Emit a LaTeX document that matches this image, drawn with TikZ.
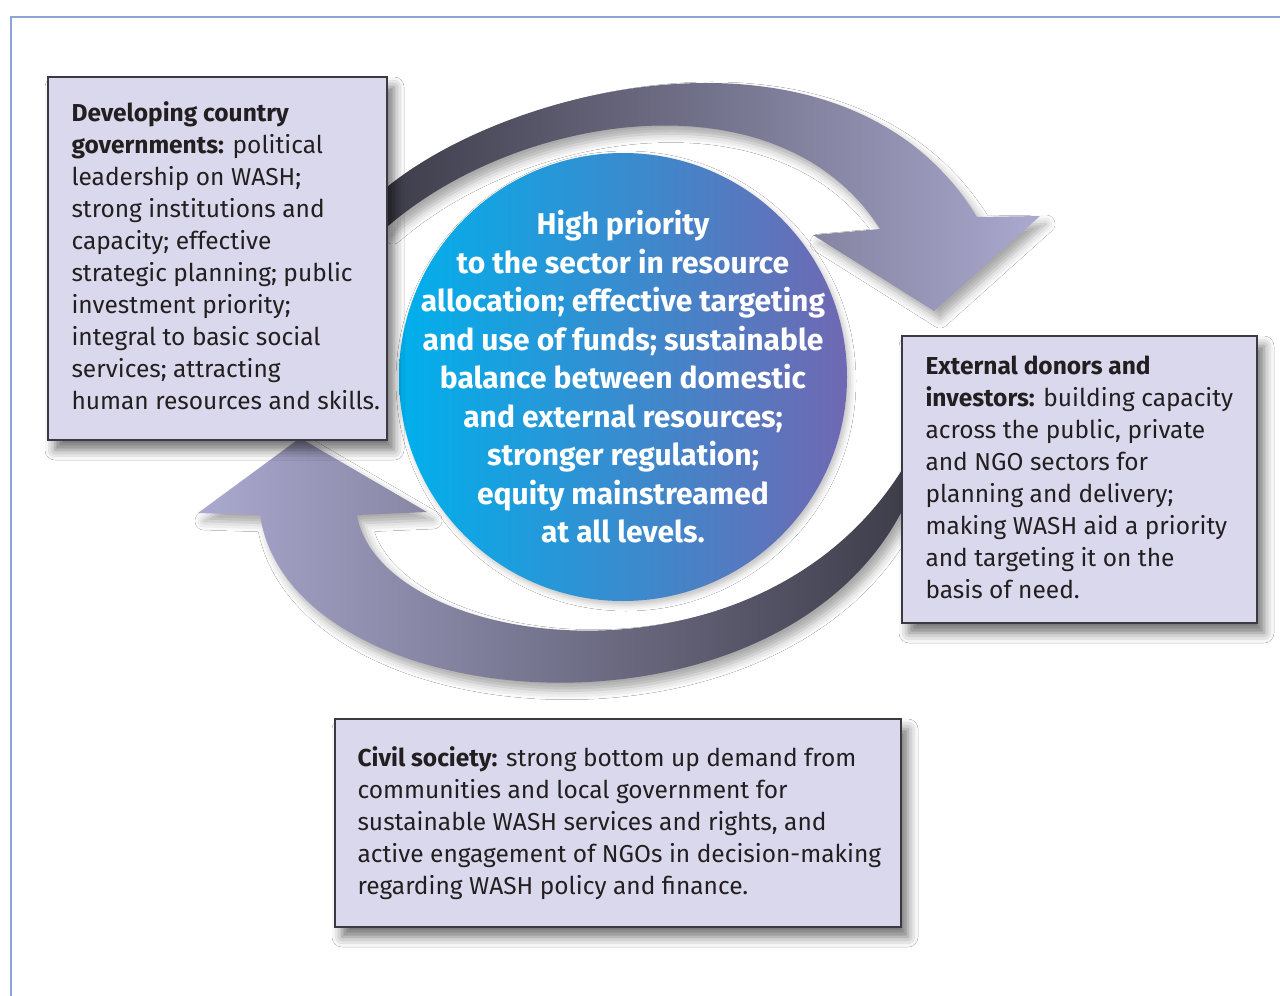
\documentclass[tikz,border=0pt]{standalone}
\usepackage{fontspec}
\setmainfont{Fira Sans}
\usetikzlibrary{shadows.blur}
\definecolor{boxfill}{HTML}{DAD8EC}
\definecolor{boxline}{HTML}{3C3A40}
\definecolor{ink}{HTML}{231F20}
\definecolor{framec}{HTML}{8DA5D5}
\definecolor{hubL}{HTML}{00B0EC}
\definecolor{hubR}{HTML}{7068B2}
\definecolor{arrDark}{HTML}{3E3D4A}
\definecolor{arrLight}{HTML}{AAA9CF}
\begin{document}
\begin{tikzpicture}[x=1pt,y=-1pt,
  panel/.style={draw=boxline, line width=1.3pt, fill=boxfill, rectangle, inner sep=0pt,
    blur shadow={shadow xshift=7pt, shadow yshift=-10pt, shadow blur radius=10pt, shadow opacity=55}},
  paneltext/.style={align=left, inner sep=0pt, text=ink, font=\fontsize{24.5}{32}\selectfont},
  hubtext/.style={align=center, inner sep=0pt, text=white, font=\fontsize{30}{38.5}\selectfont\bfseries},
  loop/.style={blur shadow={shadow xshift=6pt, shadow yshift=-8pt, shadow blur radius=9pt, shadow opacity=35}},
  framel/.style={draw=framec, line width=2pt}]
\useasboundingbox (0,0) rectangle (1280,996);
\fill[white] (0,0) rectangle (1280,996);
% frame
\coordinate (f1) at (10,17);
\coordinate (f2) at (1280,17);
\coordinate (f3) at (11,17);
\coordinate (f4) at (11,996);
\draw[framel] (f1) -- (f2);
\draw[framel] (f3) -- (f4);
% top arrow
\path[loop, left color=arrDark, right color=arrLight]
  (387,187) .. controls (519,80) and (850,8) .. (977,217)
  -- (1040,216) -- (934,311) -- (813,235) -- (880,229)
  .. controls (780,72) and (519,112) .. (387,227) -- cycle;
% bottom arrow
\path[loop, left color=arrLight, right color=arrDark]
  (260,515) .. controls (290,720) and (780,760) .. (905,505)
  -- (905,465) .. controls (760,705) and (380,650) .. (357,515)
  -- (427,512) -- (300,438) -- (198,513) -- cycle;
% hub
\node[circle, minimum size=448pt, inner sep=0pt, left color=hubL, right color=hubR,
  blur shadow={shadow xshift=3pt, shadow yshift=-4pt, shadow blur radius=6pt, shadow opacity=25}]
  (hub) at (623,377) {};
\node[hubtext] (hubtxt) at (hub.center) {High priority\\
to the sector in resource\\
allocation; effective targeting\\
and use of funds; sustainable\\
balance between domestic\\
and external resources;\\
stronger regulation;\\
equity mainstreamed\\
at all levels.};
% panels
\node[panel, minimum width=339pt, minimum height=363pt] (gov) at (217.5,258.5) {};
\node[paneltext, anchor=west] (govtxt) at ([xshift=24pt, yshift=3pt]gov.west) {\textbf{Developing country}\\
\textbf{governments:} political\\
leadership on WASH;\\
strong institutions and\\
capacity; effective\\
strategic planning; public\\
investment priority;\\
integral to basic social\\
services; attracting\\
human resources and skills.};
\node[panel, minimum width=355pt, minimum height=287pt] (don) at (1079.5,479.5) {};
\node[paneltext, anchor=west] (dontxt) at ([xshift=24pt, yshift=2pt]don.west) {\textbf{External donors and}\\
\textbf{investors:} building capacity\\
across the public, private\\
and NGO sectors for\\
planning and delivery;\\
making WASH aid a priority\\
and targeting it on the\\
basis of need.};
\node[panel, minimum width=566pt, minimum height=208pt] (civ) at (618,823) {};
\node[paneltext, anchor=west] (civtxt) at ([xshift=23pt]civ.west) {\textbf{Civil society:} strong bottom up demand from\\
communities and local government for\\
sustainable WASH services and rights, and\\
active engagement of NGOs in decision-making\\
regarding WASH policy and finance.};
\end{tikzpicture}
\end{document}
